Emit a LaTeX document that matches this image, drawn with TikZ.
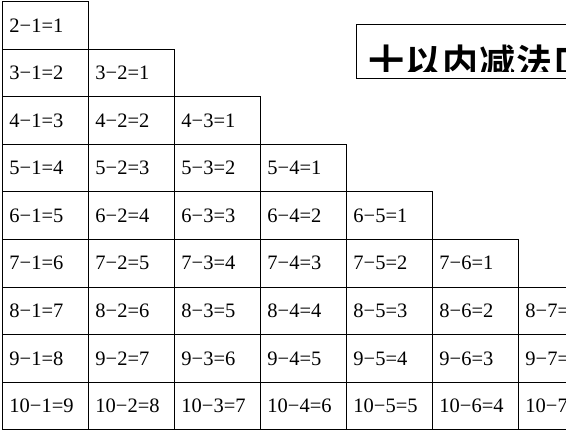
\documentclass[tikz,border=0pt]{standalone}
\usepackage{fontspec}
\setmainfont{Liberation Serif}
\newfontfamily\cjk[LetterSpace=3,BoldFont={* Bold}]{Noto Sans CJK SC}
\usepackage{tikz}

\begin{document}
\begin{tikzpicture}[x=1pt, y=-1pt,
    cell/.style={draw, line width=0.9pt, rectangle, anchor=north west,
      minimum height=47.6pt, text width=71pt, inner xsep=7.5pt, inner ysep=0pt,
      align=left, font=\fontsize{20.5}{24}\selectfont}]
    \useasboundingbox (0,0) rectangle (566,431);
    \def\cw{86}
    \def\ch{47.6}

    % Triangle of subtraction facts
    \foreach \a in {2,...,10} {
      \pgfmathtruncatemacro{\last}{min(\a-1,7)}
      \foreach \b in {1,...,\last} {
        \pgfmathtruncatemacro{\d}{\a-\b}
        \node[cell] (c\a-\b) at ({1.5+(\b-1)*\cw}, {1+(\a-2)*\ch}) {\a−\b=\d};
      }
    }

    % Title box, text cut off at the bottom
    \node[draw, line width=0.9pt, anchor=north west, minimum width=300pt,
      minimum height=53.5pt, inner sep=0pt] (titlebox) at (356,24) {};
    \begin{scope}
      \clip (356,24) rectangle (660,71.5);
      \node[anchor=base west, inner sep=0pt,
        font=\cjk\bfseries\fontsize{36}{40}\selectfont] (title) at (368,75) {十以内减法口};
    \end{scope}
\end{tikzpicture}
\end{document}
